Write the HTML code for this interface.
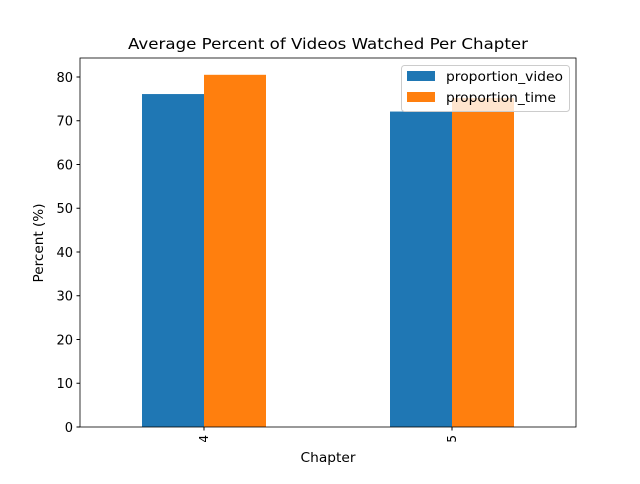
<!DOCTYPE html>
<html><head><meta charset="utf-8"><style>
body{margin:0;background:#fff;font-family:"DejaVu Sans","Liberation Sans",sans-serif;}
svg text{font-family:"DejaVu Sans","Liberation Sans",sans-serif;fill:#000;}
</style></head><body>
<svg id="chart" width="640" height="480" xmlns="http://www.w3.org/2000/svg">
<rect width="640" height="480" fill="#fff"/>
<text x="328" y="49" font-size="15" text-anchor="middle" textLength="400" lengthAdjust="spacingAndGlyphs">Average Percent of Videos Watched Per Chapter</text>
<g id="bars"></g>
<g id="axes"></g>
<text x="328" y="462" font-size="13" text-anchor="middle" textLength="55" lengthAdjust="spacingAndGlyphs">Chapter</text>
<text transform="translate(43,243) rotate(-90)" font-size="13" text-anchor="middle" textLength="79" lengthAdjust="spacingAndGlyphs">Percent (%)</text>
<g>
<rect x="401.5" y="65.5" width="168" height="46" rx="3" fill="#fff" fill-opacity="0.8" stroke="#ccc"/>
<rect x="407" y="71" width="28" height="10" fill="#1f77b4"/>
<text x="446" y="81" font-size="13" textLength="117" lengthAdjust="spacingAndGlyphs">proportion_video</text>
<rect x="407" y="92" width="28" height="10" fill="#ff7f0e"/>
<text x="446" y="102" font-size="13" textLength="110" lengthAdjust="spacingAndGlyphs">proportion_time</text>
</g>
</svg>
<script>
const categories=["4","5"];
const proportionVideo=[76.1,72.1];
const proportionTime=[80.5,75.2];
const yTicks=[0,10,20,30,40,50,60,70,80];
const L=80,R=576,T=58,B=427,yMax=84.34;
const y=v=>B-(v/yMax)*(B-T);
const xc=i=>L+(i+0.5)*(R-L)/categories.length;
const bw=(R-L)/categories.length*0.25;
const NS="http://www.w3.org/2000/svg";
const bars=document.getElementById('bars'),axes=document.getElementById('axes');
function mk(p,tag,attrs){const e=document.createElementNS(NS,tag);for(const k in attrs)e.setAttribute(k,attrs[k]);p.appendChild(e);return e;}
categories.forEach((c,i)=>{
 let b=mk(bars,'rect',{x:xc(i)-bw,y:y(proportionVideo[i]),width:bw,height:B-y(proportionVideo[i]),fill:'#1f77b4'});
 
 
 let o=mk(bars,'rect',{x:xc(i),y:y(proportionTime[i]),width:bw,height:B-y(proportionTime[i]),fill:'#ff7f0e'});
 
 
 mk(axes,'line',{x1:xc(i),x2:xc(i),y1:B,y2:B+3.5,stroke:'#000'});
 let t=mk(axes,'text',{transform:`translate(${xc(i)+4},${B+8}) rotate(-90)`,'font-size':12,'text-anchor':'end'});
 t.textContent=c;
 
 
});
yTicks.forEach(v=>{
 mk(axes,'line',{x1:L-3.5,x2:L,y1:y(v),y2:y(v),stroke:'#000'});
 let t=mk(axes,'text',{x:L-7,y:y(v)+5,'font-size':13,'text-anchor':'end'});
 t.textContent=v;
 
 
});
let f=mk(axes,'rect',{x:L,y:T,width:R-L,height:B-T,fill:'none',stroke:'#000','stroke-width':0.8});


</script>
</body></html>
